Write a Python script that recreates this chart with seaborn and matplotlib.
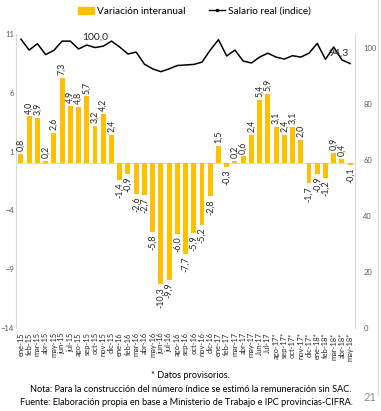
import numpy as np
import pandas as pd
import seaborn as sns
import matplotlib.pyplot as plt
from matplotlib.lines import Line2D
from matplotlib.patches import Patch

# %% Data
meses = ['ene-15', 'feb-15', 'mar-15', 'abr-15', 'may-15', 'jun-15', 'jul-15',
         'ago-15', 'sep-15', 'oct-15', 'nov-15', 'dic-15',
         'ene-16', 'feb-16', 'mar-16', 'abr-16', 'may-16', 'jun-16', 'jul-16',
         'ago-16', 'sep-16', 'oct-16', 'nov-16', 'dic-16',
         'ene-17', 'feb-17', 'mar-17', 'abr-17', 'may-17', 'Jun-17', 'Jul-17',
         'ago-17*', 'sep-17*', 'oct-17*', 'nov-17*', 'dic-17*',
         'ene-18*', 'feb-18*', 'mar-18*', 'abr-18*', 'may-18*']

variacion = [0.8, 4.0, 3.9, 0.2, 2.6, 7.3, 4.9, 4.8, 5.7, 3.2, 4.2, 2.4,
             -1.4, -0.9, -2.6, -2.7, -5.8, -10.3, -9.9, -6.0, -7.7, -5.9, -5.2, -2.8,
             1.5, -0.3, 0.2, 0.6, 2.4, 5.4, 5.9, 3.1, 2.4, 3.1, 2.0,
             -1.7, -0.9, -1.2, 0.9, 0.4, -0.1]

salario = [103.0, 99.1, 101.4, 97.5, 99.0, 102.3, 102.3, 99.5, 100.9, 100.0,
           100.5, 102.3, 100.2, 97.7, 98.4, 94.1, 92.4, 91.4, 92.4, 93.6,
           93.8, 94.0, 94.8, 99.1, 102.8, 97.0, 99.1, 95.2, 94.5, 96.6,
           98.0, 96.6, 95.9, 97.1, 96.6, 98.0, 101.5, 95.8, 100.2, 95.6, 94.3]

df = pd.DataFrame({'mes': meses, 'var': variacion, 'salario': salario})

oro = '#FFC000'
gris = '#595959'
plt.rcParams['font.family'] = ['Lato', 'DejaVu Sans']

fig = plt.figure(figsize=(3.81, 4.11), dpi=100)
ax = fig.add_axes([0.042, 0.202, 0.890, 0.715])

sns.barplot(data=df, x='mes', y='var', color=oro, width=0.6, ax=ax,
            saturation=1)
ax.bar_label(ax.containers[0],
             labels=[f'{v:.1f}'.replace('.', ',') for v in variacion],
             rotation=90, padding=2, fontsize=6.4, color='#262626')
ax.axhline(0, color='#d9d9d9', lw=0.8, zorder=0)
ax.set_ylim(-14, 11)
ax.set_yticks([-14, -9, -4, 1, 6, 11])
ax.set_xlim(-0.6, len(meses) - 0.4)
ax.set_xlabel('')
ax.set_ylabel('')
ax.tick_params(axis='y', length=0, labelsize=5.5, labelcolor=gris, pad=1.5)
ax.tick_params(axis='x', length=0, labelsize=5.4, labelcolor='#262626',
               rotation=90, pad=3)
for s in ['top', 'bottom', 'right']:
    ax.spines[s].set_visible(False)
ax.spines['left'].set_color('#d9d9d9')

# %% Real salary index on the right axis
ax2 = ax.twinx()
sns.lineplot(data=df, x='mes', y='salario', sort=False, color='black',
             lw=1.1, ax=ax2)
ax2.set_ylim(0, 104.8)
ax2.set_yticks([0, 20, 40, 60, 80, 100])
ax2.set_ylabel('')
ax2.tick_params(axis='y', length=0, labelsize=5.5, labelcolor=gris, pad=6)
for s in ['top', 'bottom', 'left']:
    ax2.spines[s].set_visible(False)
ax2.spines['right'].set_color('#d9d9d9')
ax2.annotate('100,0', (9, salario[9]), xytext=(0, 4), textcoords='offset points',
             ha='center', va='bottom', fontsize=7.5, color='#262626')
ax2.annotate('94,3', (40, salario[40]), xytext=(-1, 4), textcoords='offset points',
             ha='right', va='bottom', fontsize=7.5, color='#262626')

# Legend and notes
handles = [Patch(color=oro),
           Line2D([], [], color='black', lw=1, marker='o', markersize=1.5)]
fig.legend(handles, ['Variación interanual', 'Salario real (indice)'],
           loc='center', bbox_to_anchor=(0.51, 0.973), ncol=2, frameon=False,
           fontsize=7.2, handlelength=1.6, handletextpad=0.3, columnspacing=2.3)

fig.text(0.5, 0.081, '* Datos provisorios.', ha='center', fontsize=6.6)
fig.text(0.5, 0.047,
         'Nota: Para la construcción del número índice se estimó la remuneración sin SAC.',
         ha='center', fontsize=6.6)
fig.text(0.49, 0.015,
         'Fuente: Elaboración propia en base a Ministerio de Trabajo e IPC provincias-CIFRA.',
         ha='center', fontsize=6.6)
fig.text(0.972, 0.025, '21', ha='center', fontsize=8, color='#8c8c8c')
fig.add_artist(Line2D([0.993, 0.993], [0.04, 1.0], color='#d9d9d9', lw=0.8))

fig.savefig('out.png', dpi=100)
